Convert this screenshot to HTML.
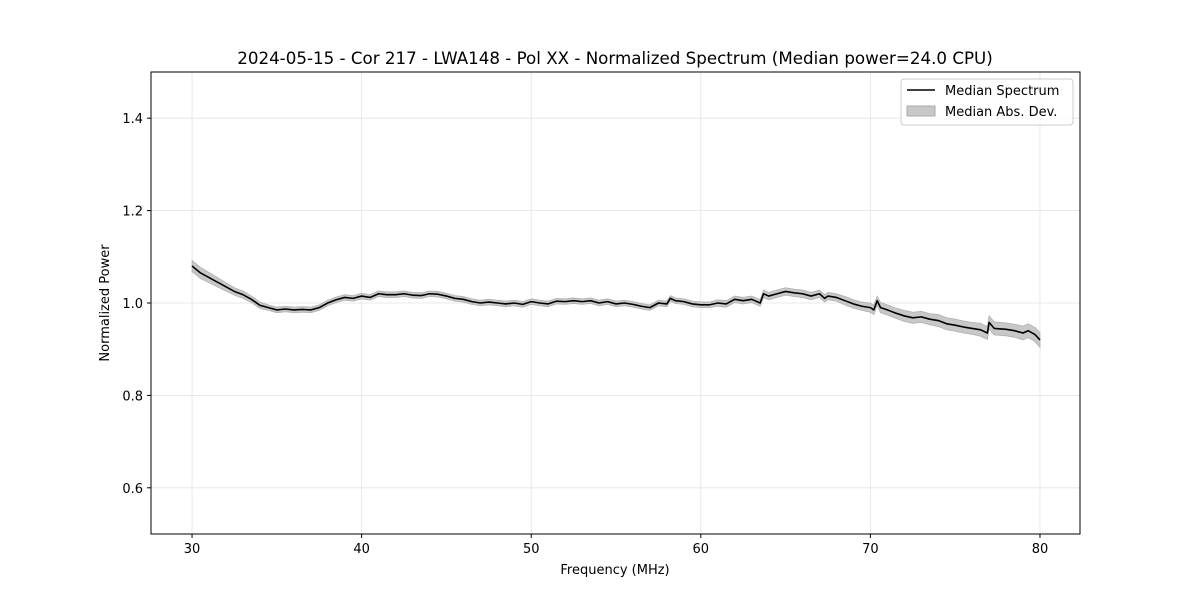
<!DOCTYPE html>
<html><head><meta charset="utf-8"><style>
body{margin:0;background:#fff;}
svg{display:block;font-family:"DejaVu Sans","Liberation Sans",sans-serif;}
</style></head><body>
<svg id="chart" width="1200" height="600">
<rect width="1200" height="600" fill="#fff"/>
<text x="615" y="64" font-size="16.7" text-anchor="middle">2024-05-15 - Cor 217 - LWA148 - Pol XX - Normalized Spectrum (Median power=24.0 CPU)</text>
<g id="grid"></g>
<g id="band"></g>
<g id="line"></g>
<rect x="151" y="72" width="929" height="462" fill="none" stroke="#000" stroke-width="1"/>
<g id="ticks"></g>
<text x="615" y="574" font-size="13" text-anchor="middle">Frequency (MHz)</text>
<text x="109" y="303" font-size="13" text-anchor="middle" transform="rotate(-90 109 303)">Normalized Power</text>
<g>
<rect x="901" y="79" width="172" height="46" rx="3" fill="#fff" fill-opacity="0.8" stroke="#ccc"/>
<line x1="907" y1="90" x2="935" y2="90" stroke="#000" stroke-width="1.5"/>
<text x="945" y="95" font-size="13">Median Spectrum</text>
<rect x="907" y="106" width="28" height="10" fill="#c8c8c8" stroke="#aaa"/>
<text x="945" y="116" font-size="13">Median Abs. Dev.</text>
</g>
</svg>
<script>
const freqs=[30,30.5,31,31.5,32,32.5,33,33.5,34,34.5,35,35.5,36,36.5,37,37.5,38,38.5,39,39.5,40,40.5,41,41.5,42,42.5,43,43.5,44,44.5,45,45.5,46,46.5,47,47.5,48,48.5,49,49.5,50,50.5,51,51.5,52,52.5,53,53.5,54,54.5,55,55.5,56,56.5,57,57.5,58,58.2,58.5,59,59.5,60,60.5,61,61.5,62,62.5,63,63.5,63.7,64,64.5,65,65.5,66,66.5,67,67.3,67.5,68,68.5,69,69.5,70,70.2,70.4,70.6,71,71.5,72,72.5,73,73.5,74,74.5,75,75.5,76,76.5,76.9,77,77.3,78,78.5,79,79.3,79.7,80];
const medianPower=[1.08,1.065,1.055,1.045,1.035,1.025,1.018,1.008,0.995,0.99,0.985,0.987,0.985,0.986,0.985,0.99,1.0,1.007,1.012,1.01,1.015,1.012,1.02,1.018,1.018,1.02,1.017,1.016,1.02,1.019,1.015,1.01,1.008,1.003,1.0,1.002,1.0,0.998,1.0,0.997,1.003,1.0,0.998,1.004,1.003,1.005,1.003,1.005,1.0,1.003,0.998,1.0,0.997,0.993,0.99,1.0,0.998,1.01,1.005,1.003,0.998,0.996,0.996,1.0,0.998,1.008,1.005,1.008,1.0,1.02,1.015,1.02,1.025,1.022,1.02,1.015,1.02,1.01,1.015,1.012,1.005,0.998,0.993,0.99,0.985,1.005,0.99,0.985,0.978,0.972,0.968,0.97,0.965,0.962,0.955,0.952,0.948,0.945,0.942,0.935,0.958,0.945,0.943,0.94,0.935,0.94,0.932,0.92];
const madWidth=[0.012,0.012,0.011,0.01,0.009,0.008,0.008,0.007,0.007,0.006,0.006,0.006,0.006,0.006,0.006,0.006,0.006,0.006,0.006,0.006,0.006,0.006,0.006,0.006,0.006,0.006,0.006,0.006,0.006,0.006,0.006,0.006,0.006,0.006,0.006,0.006,0.006,0.006,0.006,0.006,0.006,0.006,0.006,0.006,0.006,0.006,0.006,0.006,0.006,0.006,0.006,0.006,0.006,0.006,0.006,0.006,0.006,0.006,0.006,0.006,0.006,0.006,0.006,0.007,0.007,0.007,0.007,0.007,0.007,0.008,0.008,0.008,0.008,0.008,0.008,0.008,0.008,0.008,0.008,0.008,0.009,0.009,0.009,0.01,0.01,0.01,0.011,0.011,0.011,0.012,0.012,0.012,0.012,0.013,0.013,0.013,0.013,0.013,0.014,0.014,0.014,0.014,0.014,0.014,0.015,0.015,0.015,0.016];
const xTicks=[30,40,50,60,70,80];
const yTicks=[0.6,0.8,1.0,1.2,1.4];
const yTickLabels=["0.6","0.8","1.0","1.2","1.4"];
const X0=151,X1=1080,Y0=72,Y1=534,XMIN=27.58,XMAX=82.36,YMIN=0.5,YMAX=1.5;
const sx=v=>X0+(v-XMIN)/(XMAX-XMIN)*(X1-X0);
const sy=v=>Y1-(v-YMIN)/(YMAX-YMIN)*(Y1-Y0);
const NS="http://www.w3.org/2000/svg";
function mk(tag,attrs,parent){const e=document.createElementNS(NS,tag);for(const k in attrs)e.setAttribute(k,attrs[k]);parent.appendChild(e);return e;}
const grid=document.getElementById('grid'),ticks=document.getElementById('ticks');
xTicks.forEach(t=>{
 const g=mk('line',{x1:sx(t),x2:sx(t),y1:Y0,y2:Y1,stroke:'#e3e3e3','stroke-width':0.8},grid);
 
 
 mk('line',{x1:sx(t),x2:sx(t),y1:Y1,y2:Y1+4,stroke:'#000'},ticks);
 const tx=mk('text',{x:sx(t),y:Y1+19,'font-size':13,'text-anchor':'middle'},ticks);tx.textContent=t;
 
 
});
yTicks.forEach((t,i)=>{
 const g=mk('line',{x1:X0,x2:X1,y1:sy(t),y2:sy(t),stroke:'#e3e3e3','stroke-width':0.8},grid);
 
 
 mk('line',{x1:X0-4,x2:X0,y1:sy(t),y2:sy(t),stroke:'#000'},ticks);
 const tx=mk('text',{x:X0-8,y:sy(t)+5,'font-size':13,'text-anchor':'end'},ticks);tx.textContent=yTickLabels[i];
 
 
});
let up=[],dn=[],ln=[];
freqs.forEach((f,i)=>{up.push(sx(f)+','+sy(medianPower[i]+madWidth[i]));dn.unshift(sx(f)+','+sy(medianPower[i]-madWidth[i]));ln.push(sx(f)+','+sy(medianPower[i]));});
const band=mk('polygon',{points:up.concat(dn).join(' '),fill:'#c8c8c8',stroke:'#b0b0b0','stroke-width':0.8},document.getElementById('band'));


const line=mk('polyline',{points:ln.join(' '),fill:'none',stroke:'#000','stroke-width':1.6,'stroke-linejoin':'round'},document.getElementById('line'));


</script>
</body></html>
